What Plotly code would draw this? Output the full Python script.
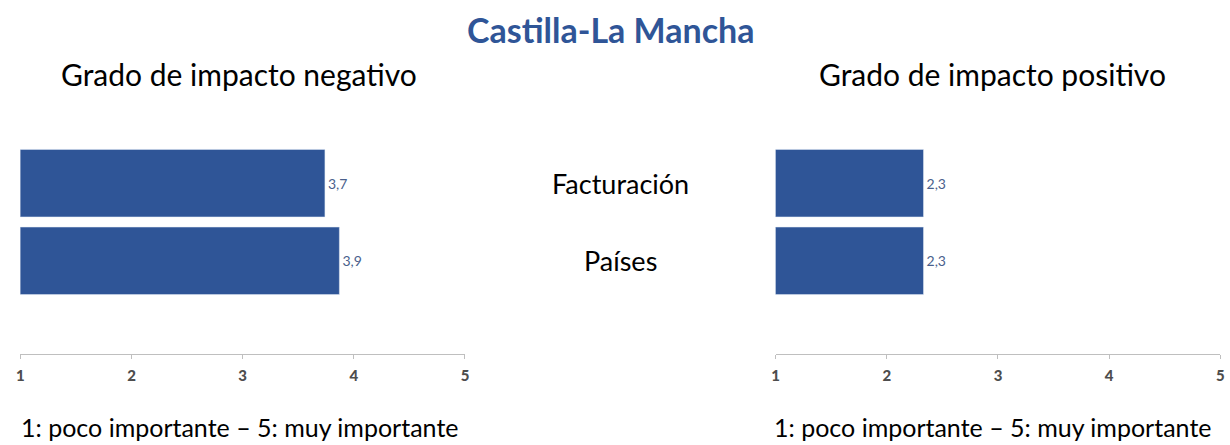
import plotly.graph_objects as go

# datos
categorias = ['Facturación', 'Países']
negativo = [3.74, 3.87]
positivo = [2.33, 2.33]
ticks = [1, 2, 3, 4, 5]

azul = '#2F5597'
fuente = 'Lato'


def etiquetas(vals):
    return [f'{v:.1f}'.replace('.', ',') for v in vals]


fig = go.Figure()

fig.add_trace(go.Bar(
    y=categorias, x=negativo, orientation='h',
    marker_color=azul, text=etiquetas(negativo), textposition='outside',
    textfont=dict(color='#4A5F8C', size=14, family=fuente),
    cliponaxis=False, xaxis='x', yaxis='y', showlegend=False))

fig.add_trace(go.Bar(
    y=categorias, x=positivo, orientation='h',
    marker_color=azul, text=etiquetas(positivo), textposition='outside',
    textfont=dict(color='#4A5F8C', size=14, family=fuente),
    cliponaxis=False, xaxis='x2', yaxis='y2', showlegend=False))

eje_x = dict(range=[1, 5], tickvals=ticks, showgrid=False, zeroline=False,
             showline=True, linecolor='#BFBFBF', linewidth=1,
             ticks='outside', ticklen=4, tickcolor='#BFBFBF',
             tickfont=dict(size=15, color='#4D4D4D', family=fuente + ' Black, ' + fuente),
             ticklabelstandoff=4,
             anchor='free', position=(445 - 354) / 445)
eje_y = dict(range=[2.2, -1.2], showticklabels=False, showgrid=False,
             zeroline=False, showline=False, ticks='',
             domain=[(445 - 354) / 445, (445 - 90) / 445])

fig.update_layout(
    width=1230, height=445,
    margin=dict(l=0, r=0, t=0, b=0),
    plot_bgcolor='white', paper_bgcolor='white',
    bargap=0.13,
    xaxis=dict(eje_x, domain=[16.5 / 1230, 464 / 1230]),
    xaxis2=dict(eje_x, domain=[776.7 / 1230, 1224.3 / 1230]),
    yaxis=dict(eje_y, anchor='x'),
    yaxis2=dict(eje_y, anchor='x2'),
    font=dict(family=fuente),
)

# titulo y subtitulos
textos = [
    dict(text='<b>Castilla-La Mancha</b>', x=611, y=30, size=34, color=azul),
    dict(text='Grado de impacto negativo', x=237, y=74, size=30, color='black'),
    dict(text='Grado de impacto positivo', x=995, y=74, size=30, color='black'),
    dict(text='1: poco importante – 5: muy importante', x=237, y=427, size=25, color='black'),
    dict(text='1: poco importante – 5: muy importante', x=995, y=427, size=25, color='black'),
]
for t in textos:
    fig.add_annotation(text=t['text'], x=t['x'] / 1230, y=1 - t['y'] / 445,
                       xref='paper', yref='paper', showarrow=False,
                       xanchor='center', yanchor='middle',
                       font=dict(size=t['size'], color=t['color'], family=fuente))

# etiquetas de categoria en el centro
for c in categorias:
    fig.add_annotation(text=c, x=621 / 1230, y=c, xref='paper', yref='y',
                       showarrow=False, xanchor='center', yanchor='middle',
                       font=dict(size=27, color='black', family=fuente))

fig.write_html('out.html', config={'displayModeBar': False},
               post_script="document.body.style.margin='0px';")
